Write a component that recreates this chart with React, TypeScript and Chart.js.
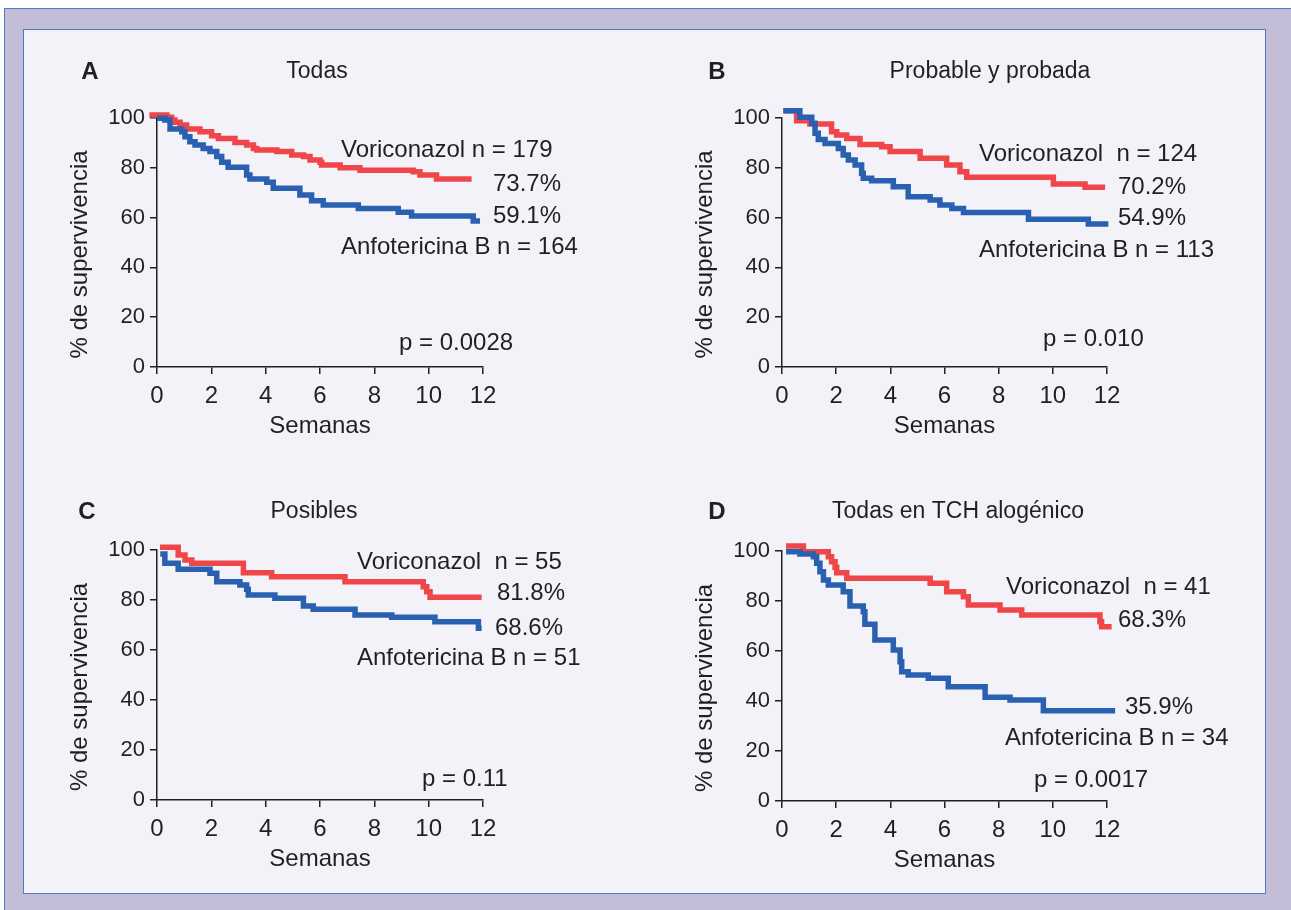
import React, { useEffect, useRef } from 'react';
import { Chart, registerables } from 'chart.js';

Chart.register(...registerables);

// ---------- tick labels ----------
const weekTicks = [0, 2, 4, 6, 8, 10, 12];
const pctTicks = [0, 20, 40, 60, 80, 100];

// ---------- series (weeks, % survival) ----------
const aVoriWeeks = [-0.28, 0.36, 0.54, 0.66, 0.85, 1.09, 1.58, 2.01, 2.26, 2.87, 3.3, 3.55, 3.67, 4.41, 4.96, 5.39, 5.63, 6.0, 6.06, 6.74, 7.47, 9.43, 9.68, 10.29, 11.58];
const aVoriPct = [101.2, 100.3, 99.2, 98.3, 97.2, 95.6, 94.5, 92.9, 91.8, 90.2, 89.2, 87.8, 87.1, 86.5, 85.1, 84.5, 83.1, 82.2, 81.1, 80.0, 79.0, 78.4, 77.1, 75.5, 75.5];
const aAnfoWeeks = [0, 0.29, 0.48, 0.91, 1.03, 1.21, 1.4, 1.7, 1.95, 2.2, 2.38, 2.62, 3.3, 3.42, 4.04, 4.28, 5.26, 5.69, 6.12, 7.41, 8.88, 9.37, 11.64, 11.89];
const aAnfoPct = [99.9, 99.2, 95.6, 94.5, 92.5, 90.5, 89.2, 87.8, 86.5, 84.5, 82.2, 80.2, 77.1, 75.5, 74.2, 71.8, 69.1, 66.8, 65.1, 63.7, 62.1, 60.6, 58.6, 58.6];

const bVoriWeeks = [0.05, 0.54, 1.03, 1.83, 2.02, 2.39, 2.88, 3.68, 3.99, 5.1, 6.08, 6.57, 6.82, 10.02, 11.19, 11.93];
const bVoriPct = [102.9, 98.9, 97.6, 94.5, 93.2, 91.8, 89.4, 88.5, 86.5, 83.8, 81.1, 78.4, 76.2, 73.5, 72.2, 72.2];
const bAnfoWeeks = [0.05, 0.66, 1.1, 1.22, 1.34, 1.59, 2.08, 2.26, 2.45, 2.7, 2.94, 3.0, 3.31, 4.11, 4.66, 5.47, 5.83, 6.27, 6.7, 9.1, 11.31, 12.05];
const bAnfoPct = [102.9, 100.3, 97.9, 93.9, 91.4, 89.8, 87.8, 85.1, 83.1, 81.1, 77.8, 75.8, 74.8, 72.4, 68.4, 67.1, 65.1, 63.7, 62.0, 59.3, 57.4, 57.4];

const cVoriWeeks = [0.11, 0.78, 1.03, 1.28, 3.18, 4.22, 6.92, 9.8, 9.93, 10.05, 11.95];
const cVoriPct = [101.1, 98.0, 96.0, 94.7, 90.9, 89.3, 87.3, 85.3, 83.3, 81.1, 81.1];
const cAnfoWeeks = [0.12, 0.29, 0.78, 1.95, 2.2, 3.05, 3.3, 3.36, 4.34, 5.39, 5.75, 7.29, 8.64, 10.23, 11.83, 11.95];
const cAnfoPct = [98.4, 94.7, 92.3, 90.7, 87.3, 86.0, 84.3, 82.0, 80.7, 77.6, 76.3, 74.0, 73.1, 71.3, 68.7, 68.7];

const dVoriWeeks = [0.15, 0.79, 1.71, 1.83, 1.96, 2.02, 2.39, 5.47, 6.08, 6.7, 6.88, 8.05, 8.85, 11.74, 11.8, 12.17];
const dVoriPct = [102.0, 99.7, 97.7, 95.7, 93.5, 91.3, 89.1, 87.1, 83.7, 81.7, 78.4, 76.4, 74.4, 71.7, 69.7, 69.7];
const dAnfoWeeks = [0.15, 0.66, 1.16, 1.28, 1.4, 1.53, 1.71, 2.26, 2.51, 3.0, 3.06, 3.43, 4.11, 4.36, 4.42, 4.66, 5.4, 6.14, 7.5, 8.42, 9.65, 12.3];
const dAnfoPct = [99.7, 98.8, 97.7, 95.1, 91.7, 88.4, 86.4, 83.7, 78.0, 75.7, 70.7, 64.4, 60.4, 55.7, 51.7, 50.4, 49.1, 45.7, 41.5, 40.4, 36.1, 36.1];

// ---------- texts ----------
const panelLetters = ['A', 'B', 'C', 'D'];
const panelTitles = ['Todas', 'Probable y probada', 'Posibles', 'Todas en TCH alogénico'];
const voriLabels = ['Voriconazol n = 179', 'Voriconazol  n = 124', 'Voriconazol  n = 55', 'Voriconazol  n = 41'];
const anfoLabels = ['Anfotericina B n = 164', 'Anfotericina B n = 113', 'Anfotericina B n = 51', 'Anfotericina B n = 34'];
const voriFinal = ['73.7%', '70.2%', '81.8%', '68.3%'];
const anfoFinal = ['59.1%', '54.9%', '68.6%', '35.9%'];
const pValues = ['p = 0.0028', 'p = 0.010', 'p = 0.11', 'p = 0.0017'];
const xTitle = 'Semanas';
const yTitle = '% de supervivencia';

// ---------- layout (page px) ----------
const AXIS_W = 127;
const AXIS_H = 93;
const PAD_T = 78;
const PAD_R = 147;
const plotRects = [
  { L: 157, T: 118, R: 483, B: 367 },
  { L: 782, T: 118, R: 1107, B: 367 },
  { L: 157, T: 550, R: 483, B: 800 },
  { L: 782, T: 551, R: 1107, B: 801 },
];
// offsets of texts from chart-area top-left
const textOffsets = [
  { letter: [-67, -46], title: [160, -46], vori: [184, 32], vPct: [336, 66], aPct: [336, 98], anfo: [184, 129], p: [242, 225] },
  { letter: [-65, -46], title: [208, -46], vori: [197, 36], vPct: [336, 69], aPct: [336, 100], anfo: [197, 132], p: [261, 221] },
  { letter: [-70, -38], title: [157, -38], vori: [200, 12], vPct: [340, 43], aPct: [338, 78], anfo: [200, 108], p: [265, 229] },
  { letter: [-65, -39], title: [176, -39], vori: [224, 36], vPct: [336, 69], aPct: [343, 156], anfo: [223, 187], p: [252, 229] },
];

const RED = '#ef4649';
const BLUE = '#2960b0';
const INK = '#231f20';
const FONT = "'Liberation Sans', Arial, sans-serif";

const panelSeries = [
  { vw: aVoriWeeks, vp: aVoriPct, aw: aAnfoWeeks, ap: aAnfoPct },
  { vw: bVoriWeeks, vp: bVoriPct, aw: bAnfoWeeks, ap: bAnfoPct },
  { vw: cVoriWeeks, vp: cVoriPct, aw: cAnfoWeeks, ap: cAnfoPct },
  { vw: dVoriWeeks, vp: dVoriPct, aw: dAnfoWeeks, ap: dAnfoPct },
];

const textPlugin = {
  id: 'panelText',
  afterDraw(chart: any) {
    const o = chart.options.plugins.panelText;
    if (!o) return;
    const i = o.index;
    const off = textOffsets[i];
    const ca = chart.chartArea;
    const ctx = chart.ctx;
    ctx.save();
    ctx.fillStyle = INK;
    ctx.textBaseline = 'middle';
    const put = (t: string, p: number[], align: string, font: string) => {
      ctx.font = font;
      ctx.textAlign = align;
      ctx.fillText(t, ca.left + p[0], ca.top + p[1]);
    };
    put(panelLetters[i], off.letter, 'center', `bold 24px ${FONT}`);
    put(panelTitles[i], off.title, 'center', `23px ${FONT}`);
    put(voriLabels[i], off.vori, 'left', `24px ${FONT}`);
    put(voriFinal[i], off.vPct, 'left', `24px ${FONT}`);
    put(anfoFinal[i], off.aPct, 'left', `24px ${FONT}`);
    put(anfoLabels[i], off.anfo, 'left', `24px ${FONT}`);
    put(pValues[i], off.p, 'left', `24px ${FONT}`);
    ctx.translate(ca.left - 77, (ca.top + ca.bottom) / 2 + 12);
    ctx.rotate(-Math.PI / 2);
    ctx.font = `24px ${FONT}`;
    ctx.textAlign = 'center';
    ctx.fillText(yTitle, 0, 0);
    ctx.restore();
  },
};

function Panel({ index }: { index: number }) {
  const ref = useRef<HTMLCanvasElement>(null);
  const r = plotRects[index];
  const width = r.R - r.L + AXIS_W + PAD_R;
  const height = r.B - r.T + PAD_T + AXIS_H;
  useEffect(() => {
    const s = panelSeries[index];
    const toPts = (w: number[], p: number[]) => w.map((x, k) => ({ x, y: p[k] }));
    const common = {
      pointRadius: 0,
      stepped: 'before' as const,
      fill: false,
      clip: false as any,
      borderWidth: 5.5,
      borderJoinStyle: 'miter' as const,
      borderCapStyle: 'butt' as const,
      tension: 0,
    };
    const chart = new Chart(ref.current!, {
      type: 'line',
      data: {
        datasets: [
          { ...common, label: 'Anfotericina B', data: toPts(s.aw, s.ap), borderColor: BLUE, backgroundColor: BLUE },
          { ...common, label: 'Voriconazol', data: toPts(s.vw, s.vp), borderColor: RED, backgroundColor: RED },
        ],
      },
      options: {
        animation: false,
        responsive: false,
        events: [],
        layout: { padding: { top: PAD_T, right: PAD_R, left: 0, bottom: 0 } },
        plugins: {
          legend: { display: false },
          tooltip: { enabled: false },
          panelText: { index },
        } as any,
        scales: {
          x: {
            type: 'linear',
            min: 0,
            max: 12,
            afterBuildTicks: (sc: any) => {
              sc.ticks = weekTicks.map((v) => ({ value: v }));
            },
            afterFit: (sc: any) => {
              sc.height = AXIS_H;
            },
            ticks: { color: INK, font: { family: FONT, size: 24 }, padding: 8, maxRotation: 0, autoSkip: false },
            grid: { display: true, drawOnChartArea: false, drawTicks: true, tickLength: 7, color: INK, lineWidth: 1.5 },
            border: { display: true, color: INK, width: 1.5 },
            title: { display: true, text: xTitle, color: INK, font: { family: FONT, size: 24 }, padding: { top: 0, bottom: 19 } },
          },
          y: {
            type: 'linear',
            min: 0,
            max: 100,
            afterBuildTicks: (sc: any) => {
              sc.ticks = pctTicks.map((v) => ({ value: v }));
            },
            afterFit: (sc: any) => {
              sc.width = AXIS_W;
            },
            ticks: { color: INK, font: { family: FONT, size: 22 }, padding: 5, autoSkip: false },
            grid: { display: true, drawOnChartArea: false, drawTicks: true, tickLength: 7, color: INK, lineWidth: 1.5 },
            border: { display: true, color: INK, width: 1.5 },
          },
        },
      } as any,
      plugins: [textPlugin],
    });
    return () => chart.destroy();
  }, [index]);
  return (
    <canvas
      ref={ref}
      width={width}
      height={height}
      style={{ position: 'absolute', left: r.L - AXIS_W, top: r.T - PAD_T, width, height }}
    />
  );
}

export default function App() {
  return (
    <div style={{ position: 'absolute', left: 0, top: 0, width: 1291, height: 910, background: '#ffffff', overflow: 'hidden' }}>
      <div
        style={{
          position: 'absolute',
          left: 4,
          top: 8,
          width: 1300,
          height: 920,
          background: '#c3bdd8',
          borderTop: '1.5px solid #4d7cc6',
          borderLeft: '1.5px solid #4d7cc6',
          boxSizing: 'border-box',
        }}
      />
      <div
        style={{
          position: 'absolute',
          left: 23,
          top: 29,
          width: 1243,
          height: 865,
          background: '#f3f2f9',
          border: '1.5px solid #4d7cc6',
          boxSizing: 'border-box',
        }}
      />
      {[0, 1, 2, 3].map((i) => (
        <Panel key={i} index={i} />
      ))}
    </div>
  );
}
